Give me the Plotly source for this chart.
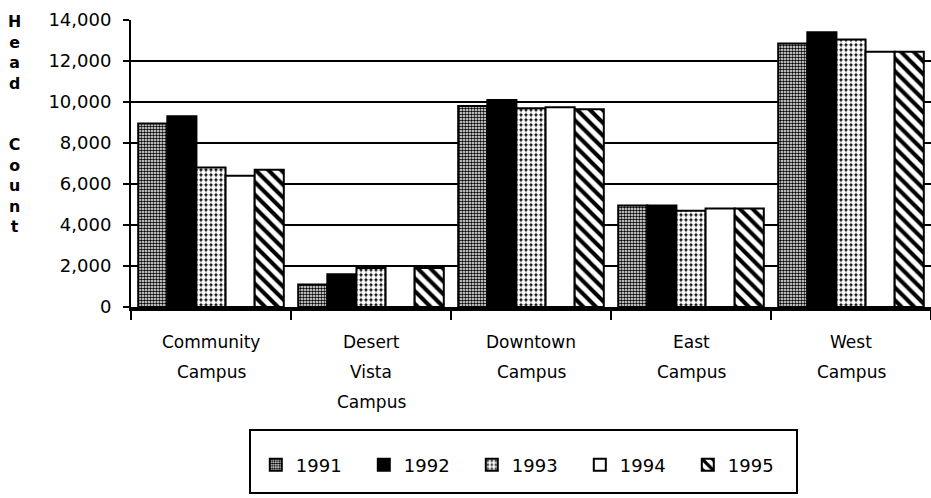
import plotly.graph_objects as go

# ---- data ----
categories = ["Community Campus", "Desert Vista Campus", "Downtown Campus", "East Campus", "West Campus"]
category_lines = [["Community", "Campus"], ["Desert", "Vista", "Campus"], ["Downtown", "Campus"],
                  ["East", "Campus"], ["West", "Campus"]]
years = ["1991", "1992", "1993", "1994", "1995"]
v1991 = [8950, 1100, 9800, 4950, 12850]
v1992 = [9300, 1600, 10100, 4950, 13400]
v1993 = [6800, 1900, 9700, 4700, 13050]
v1994 = [6400, 2000, 9750, 4800, 12450]
v1995 = [6700, 1900, 9650, 4800, 12450]
series = [v1991, v1992, v1993, v1994, v1995]
y_ticks = [0, 2000, 4000, 6000, 8000, 10000, 12000, 14000]
y_title = "Head Count"

# ---- styles ----
patterns = [
    dict(shape=".", fgcolor="black", bgcolor="white", size=3, solidity=0.55, fillmode="replace"),
    dict(shape="", fgcolor="black", bgcolor="black", size=4, solidity=1, fillmode="replace"),
    dict(shape=".", fgcolor="white", bgcolor="black", size=5, solidity=0.72, fillmode="replace"),
    dict(shape="", fgcolor="white", bgcolor="white", size=4, solidity=1, fillmode="replace"),
    dict(shape="\\", fgcolor="black", bgcolor="white", size=9, solidity=0.45, fillmode="replace"),
]
colors = ["white", "black", "white", "white", "white"]

FONT = "DejaVu Sans"

fig = go.Figure()
for yr, vals, pat, col in zip(years, series, patterns, colors):
    fig.add_trace(go.Bar(
        x=categories, y=vals, name=yr,
        marker=dict(color=col, pattern=pat, line=dict(color="black", width=2)),
    ))

# multi-line category labels
annotations = []
for cat, lines in zip(categories, category_lines):
    for i, ln in enumerate(lines):
        annotations.append(dict(
            x=cat, xref="x", y=0, yref="paper", yanchor="middle", xanchor="center",
            yshift=-35 - 30 * i, text=ln, showarrow=False,
            font=dict(family=FONT, size=17, color="black"),
        ))

# stacked vertical axis title
word1, word2 = y_title.split(" ")
stack = "<br>".join(list(word1) + [" ", " "] + list(word2))
annotations.append(dict(
    xref="paper", x=-0.146, yref="paper", y=1.0, yanchor="top", yshift=10, xanchor="center",
    showarrow=False, text=stack,
    font=dict(family=FONT, size=15.8, color="black", weight="bold"),
))

fig.update_layout(
    width=931, height=498,
    margin=dict(l=131, r=0, t=20, b=191, autoexpand=False),
    paper_bgcolor="white", plot_bgcolor="white",
    barmode="group", bargap=0.09, bargroupgap=0,
    font=dict(family=FONT, size=17, color="black"),
    showlegend=True,
    legend=dict(
        orientation="h", x=0.156, xanchor="left", y=-0.5505, yanchor="middle",
        entrywidth=63, entrywidthmode="pixels",
        font=dict(family=FONT, size=18, color="black"),
        bgcolor="rgba(0,0,0,0)", borderwidth=0,
    ),
    annotations=annotations,
    shapes=[dict(type="rect", xref="paper", yref="paper",
                 x0=0.14875, x1=0.8325, y0=-0.648, y1=-0.4286,
                 line=dict(color="black", width=2), fillcolor="rgba(0,0,0,0)")],
)
fig.update_xaxes(
    showticklabels=False, showline=True, linecolor="black", linewidth=4,
    ticks="outside", tickson="boundaries", ticklen=9, tickwidth=2, tickcolor="black",
    showgrid=False,
)
fig.update_yaxes(
    range=[0, 14000], tickvals=y_ticks, tickformat=",d",
    showline=True, linecolor="black", linewidth=2,
    ticks="outside", ticklen=6, tickwidth=2, tickcolor="black",
    showgrid=True, gridcolor="black", gridwidth=2,
    zeroline=False, ticklabelstandoff=8,
    tickfont=dict(family=FONT, size=18, color="black"),
)

fig.write_html("out.html", config={"displayModeBar": False},
               post_script="document.body.style.margin='0';document.body.style.overflow='hidden';")
